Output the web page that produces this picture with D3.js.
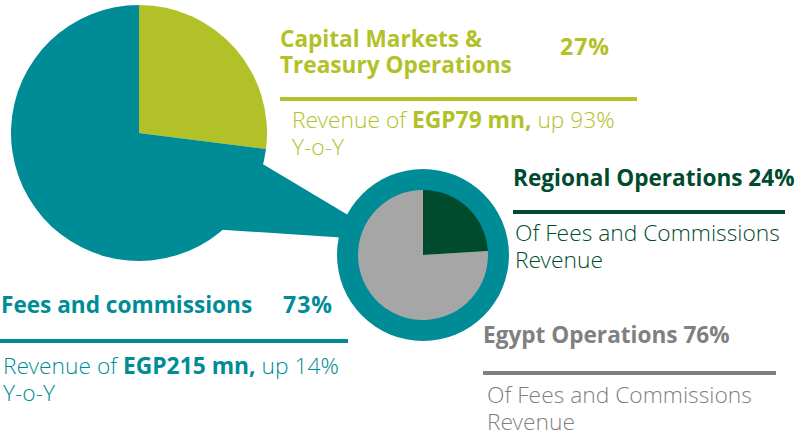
<!DOCTYPE html>
<html>
<head>
<meta charset="utf-8">
<script src="https://cdn.jsdelivr.net/npm/d3@7"></script>
<style>
  body { margin: 0; background: #fff; }
  text { font-family: "Open Sans", sans-serif; }
  .light { font-family: "Open Sans Light", "Lato Light", "Open Sans", sans-serif; }
</style>
</head>
<body>
<div id="chart"></div>
<script>
// revenue split
var segments = ['Capital Markets & Treasury Operations', 'Fees and commissions'];
var segmentShares = [27, 73];
var segmentColors = ['#b2c128', '#008c96'];

// fees and commissions split
var regions = ['Regional Operations', 'Egypt Operations'];
var regionShares = [24, 76];
var regionColors = ['#004b2d', '#a6a6a6'];

var labels = [
    {title: ['Capital Markets &', 'Treasury Operations'], pct: '27%', color: '#b2c128',
     sub: [[['Revenue of ', 300], ['EGP79 mn,', 700], [' up 93%', 300]], [['Y-o-Y', 300]]],
     x: 280, y: 47, pctX: 560, pctY: 55, lineY: 99, lineX2: 637, subX: 292, subY: 128},
    {title: ['Regional Operations 24%'], pct: '', color: '#004b2d',
     sub: [[['Of Fees and Commissions', 300]], [['Revenue', 300]]],
     x: 513, y: 186, lineY: 212, lineX2: 785, subX: 515, subY: 241},
    {title: ['Fees and commissions'], pct: '73%', color: '#008c96',
     sub: [[['Revenue of ', 300], ['EGP215 mn,', 700], [' up 14%', 300]], [['Y-o-Y', 300]]],
     x: 1, y: 313, pctX: 283, pctY: 313, lineY: 341, lineX1: 0, lineX2: 348, subX: 3, subY: 374},
    {title: ['Egypt Operations 76%'], pct: '', color: '#808080',
     sub: [[['Of Fees and Commissions', 300]], [['Revenue', 300]]],
     x: 483, y: 343, lineY: 373, lineX2: 776, subX: 487, subY: 403}
];

var width = 808, height = 438;

var svg = d3.select('#chart').append('svg')
    .attr('width', width)
    .attr('height', height);

var big = {cx: 139, cy: 133, r: 128};
var small = {cx: 423, cy: 255, r: 86, inner: 65};

var pie = d3.pie().sort(null).value(function(d) { return d; });
var arc = d3.arc().innerRadius(0);

// connector between the two pies
var deg = Math.PI / 180;
function pt(c, r, a) { return [c.cx + r * Math.sin(a * deg), c.cy - r * Math.cos(a * deg)]; }
var conn = [pt(big, big.r - 1, 104), pt(small, small.r - 2, 298), pt(small, small.r - 2, 282), pt(big, big.r - 1, 139.6)];

svg.append('path')
    .attr('d', d3.line()(conn) + 'Z')
    .attr('fill', '#008c96');

svg.append('g')
    .attr('transform', 'translate(' + big.cx + ',' + big.cy + ')')
    .selectAll('path')
    .data(pie(segmentShares))
    .enter().append('path')
    .attr('d', arc.outerRadius(big.r))
    .attr('fill', function(d, i) { return segmentColors[i]; });

svg.append('circle')
    .attr('cx', small.cx).attr('cy', small.cy).attr('r', small.r)
    .attr('fill', '#008c96');

svg.append('g')
    .attr('transform', 'translate(' + small.cx + ',' + small.cy + ')')
    .selectAll('path')
    .data(pie(regionShares))
    .enter().append('path')
    .attr('d', d3.arc().innerRadius(0).outerRadius(small.inner))
    .attr('fill', function(d, i) { return regionColors[i]; });

// labels
labels.forEach(function(l) {
    var g = svg.append('g').attr('fill', l.color);
    l.title.forEach(function(t, i) {
        g.append('text')
            .attr('x', l.x).attr('y', l.y + i * 26)
            .attr('font-size', 22.6).attr('font-weight', 700)
            .text(t);
    });
    if (l.pct) {
        g.append('text')
            .attr('x', l.pctX).attr('y', l.pctY)
            .attr('font-size', 23).attr('font-weight', 700)
            .attr('letter-spacing', 1)
            .text(l.pct);
    }
    var x1 = l.lineX1 !== undefined ? l.lineX1 : l.x;
    g.append('rect')
        .attr('x', x1)
        .attr('y', l.lineY - 2)
        .attr('width', l.lineX2 - x1)
        .attr('height', 4);
    l.sub.forEach(function(line, i) {
        var t = g.append('text')
            .attr('x', l.subX).attr('y', l.subY + i * 27)
            .attr('font-size', 22.8);
        line.forEach(function(p) {
            t.append('tspan')
                .attr('class', p[1] === 300 ? 'light' : null)
                .attr('font-weight', p[1])
                .text(p[0]);
        });
    });
});
</script>
</body>
</html>
